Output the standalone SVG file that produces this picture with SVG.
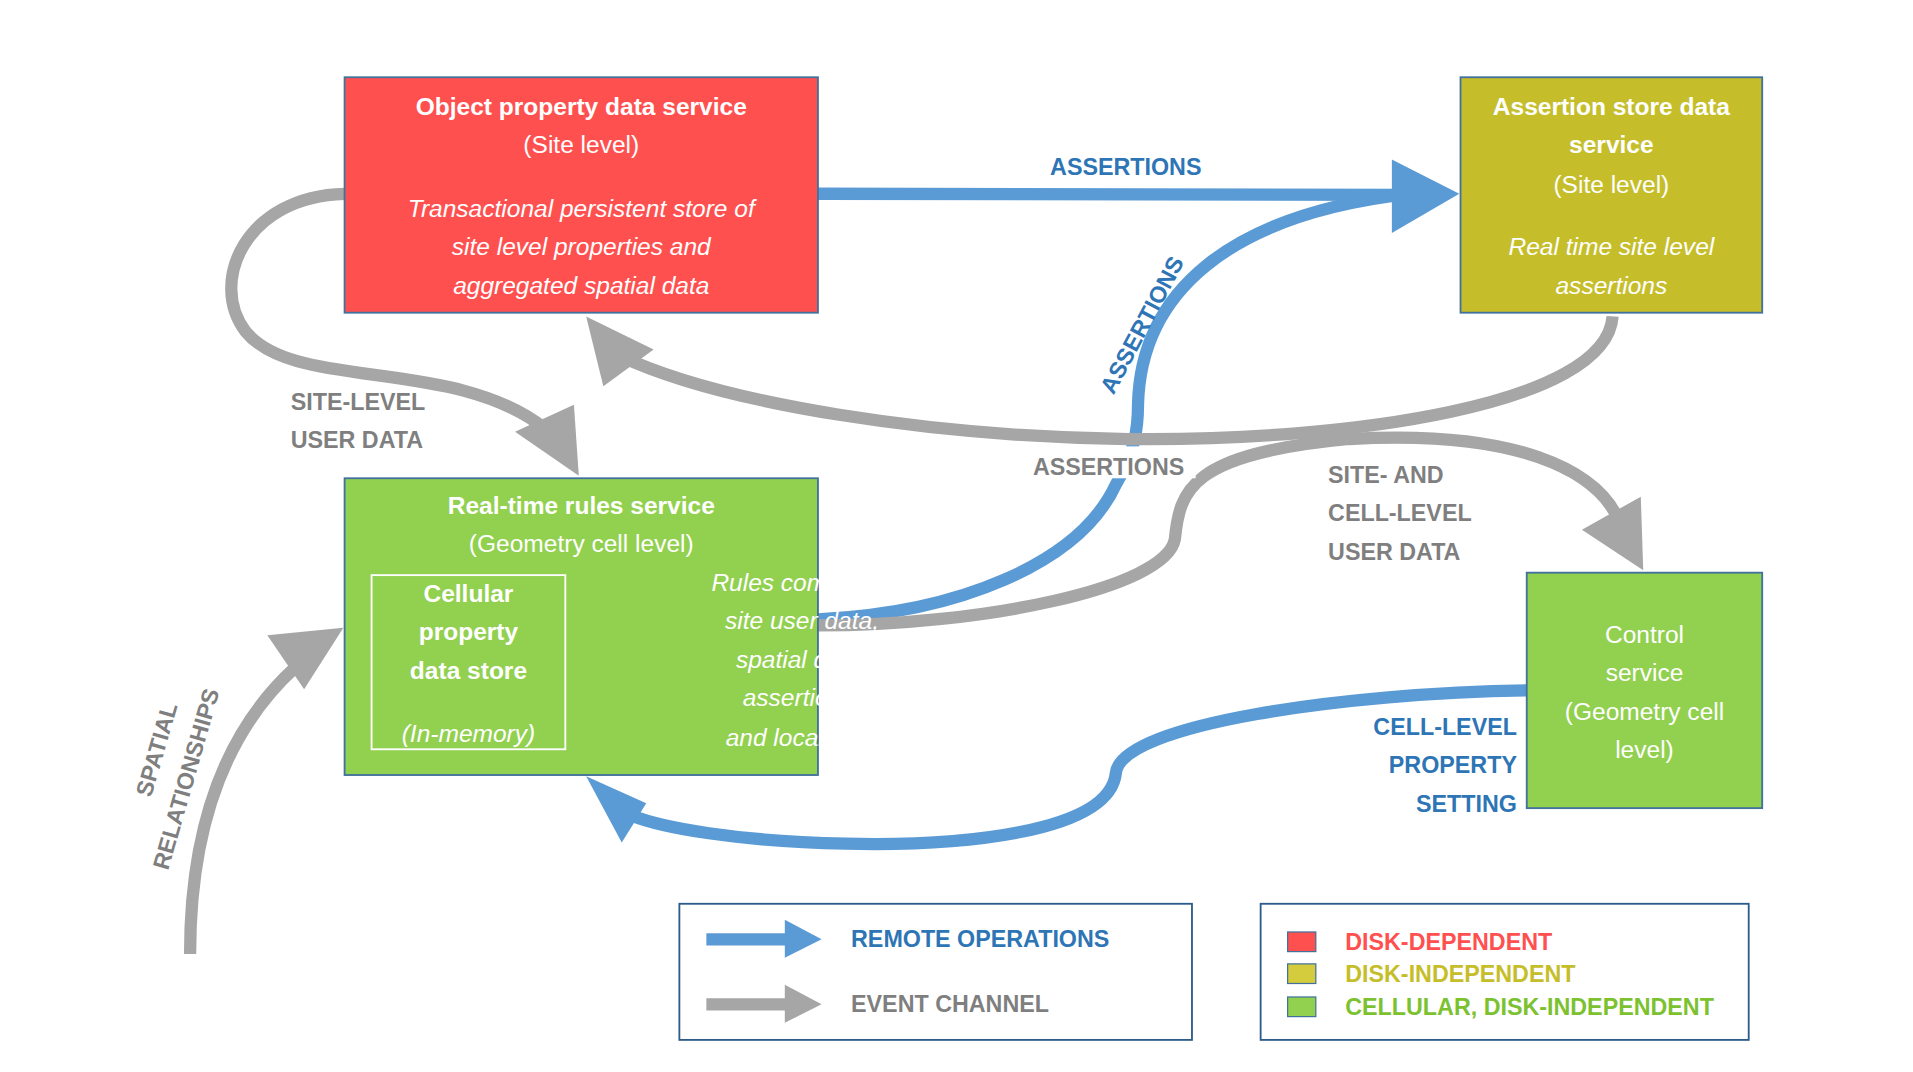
<svg xmlns="http://www.w3.org/2000/svg" width="1913" height="1072" viewBox="0 0 1913 1072">
<style>
text{font-family:"Liberation Sans",Arial,sans-serif}
.box{stroke:#41719C;stroke-width:1.5}
.t{fill:#fff;font-size:20px;text-anchor:middle}
.b{font-weight:bold}
.i{font-style:italic}
.bl{fill:none;stroke:#5B9BD5;stroke-width:10}
.gr{fill:none;stroke:#A6A6A6;stroke-width:10}
.lb{font-size:19px;font-weight:bold;fill:#2E75B6}
.lg{font-size:19px;font-weight:bold;fill:#7F7F7F}
</style>
<rect width="1913" height="1072" fill="#fff"/>
<g transform="scale(1.2263)">
<g id="connectors">
<path class="bl" d="M667,505 C780,500 880,460 910,395 C925,370 928,350 928,330 C930,240 1000,175 1150,158"/>
<path class="bl" d="M667,158 L1145,159"/>
<polygon fill="#5B9BD5" points="1135,130 1190,158 1135,190"/>
<path class="gr" d="M1315,258 C1310,330 1100,360 920,358 C760,356 590,330 505,290"/>
<polygon fill="#A6A6A6" points="478,258 533,285 492,315"/>
<path class="gr" d="M281,158 C200,160 170,230 200,270 C240,320 370,290 445,350"/>
<polygon fill="#A6A6A6" points="420,352 468,330 472,388"/>
<path class="gr" d="M667,510 C800,510 950,480 958,440 C962,400 970,370 1100,358 C1240,350 1300,385 1318,420"/>
<polygon fill="#A6A6A6" points="1290,432 1338,405 1340,465"/>
<path class="gr" d="M155,778 C155,680 180,600 240,545"/>
<polygon fill="#A6A6A6" points="218,518 280,512 248,562"/>
<path class="bl" d="M1245,563 C1100,565 915,590 910,630 C905,680 780,690 690,688 C600,686 540,675 515,665"/>
<polygon fill="#5B9BD5" points="478,633 527,655 507,687"/>
<rect x="835" y="364" width="140" height="26" fill="#fff"/>
<text class="lg" x="904" y="387" text-anchor="middle">ASSERTIONS</text>
<text class="lb" x="918" y="143" text-anchor="middle">ASSERTIONS</text>
<text class="lb" x="0" y="0" text-anchor="middle" transform="translate(937,268) rotate(-62)">ASSERTIONS</text>
<text class="lg" x="292" y="334" text-anchor="middle">SITE-LEVEL</text>
<text class="lg" x="291" y="365" text-anchor="middle">USER DATA</text>
<text class="lg" x="1083" y="394">SITE- AND</text>
<text class="lg" x="1083" y="425">CELL-LEVEL</text>
<text class="lg" x="1083" y="457">USER DATA</text>
<text class="lb" x="1237" y="599" text-anchor="end">CELL-LEVEL</text>
<text class="lb" x="1237" y="630" text-anchor="end">PROPERTY</text>
<text class="lb" x="1237" y="662" text-anchor="end">SETTING</text>
<text class="lg" x="0" y="0" text-anchor="middle" transform="translate(134,613) rotate(-74)">SPATIAL</text>
<text class="lg" x="0" y="0" text-anchor="middle" transform="translate(158,637) rotate(-74)">RELATIONSHIPS</text>
</g>
<g id="object-property">
<rect class="box" x="281" y="63" width="386" height="192" fill="#FF5050"/>
<text class="t b" x="474" y="94">Object property data service</text>
<text class="t" x="474" y="125">(Site level)</text>
<text class="t i" x="474" y="177">Transactional persistent store of</text>
<text class="t i" x="474" y="208">site level properties and</text>
<text class="t i" x="474" y="240">aggregated spatial data</text>
</g>
<g id="assertion-store">
<rect class="box" x="1191" y="63" width="246" height="192" fill="#C5BE2A"/>
<text class="t b" x="1314" y="94">Assertion store data</text>
<text class="t b" x="1314" y="125">service</text>
<text class="t" x="1314" y="157">(Site level)</text>
<text class="t i" x="1314" y="208">Real time site level</text>
<text class="t i" x="1314" y="240">assertions</text>
</g>
<g id="rules">
<rect class="box" x="281" y="390" width="386" height="242" fill="#92D050"/>
<text class="t b" x="474" y="419">Real-time rules service</text>
<text class="t" x="474" y="450">(Geometry cell level)</text>
<rect x="303" y="469" width="158" height="142" fill="none" stroke="#fff" stroke-width="1.5"/>
<text class="t b" x="382" y="491">Cellular</text>
<text class="t b" x="382" y="522">property</text>
<text class="t b" x="382" y="554">data store</text>
<text class="t i" x="382" y="605">(In-memory)</text>
<text class="t i" x="654" y="482" text-anchor="end">Rules combining</text>
<text class="t i" x="654" y="513" text-anchor="end">site user data,</text>
<text class="t i" x="654" y="545" text-anchor="end">spatial data,</text>
<text class="t i" x="654" y="576" text-anchor="end">assertions,</text>
<text class="t i" x="654" y="608" text-anchor="end">and local data</text>
</g>
<g id="control">
<rect class="box" x="1245" y="467" width="192" height="192" fill="#92D050"/>
<text class="t" x="1341" y="524">Control</text>
<text class="t" x="1341" y="555">service</text>
<text class="t" x="1341" y="587">(Geometry cell</text>
<text class="t" x="1341" y="618">level)</text>
</g>
<g id="legend-arrows">
<rect x="554" y="737" width="418" height="111" fill="#fff" stroke="#2E5C8A" stroke-width="1.5"/>
<path class="bl" d="M576,766 L645,766"/>
<polygon fill="#5B9BD5" points="640,750 670,766 640,781"/>
<path class="gr" d="M576,819 L645,819"/>
<polygon fill="#A6A6A6" points="640,803 670,819 640,834"/>
<text class="lb" x="694" y="772">REMOTE OPERATIONS</text>
<text class="lg" x="694" y="825">EVENT CHANNEL</text>
</g>
<g id="legend-colors">
<rect x="1028" y="737" width="398" height="111" fill="#fff" stroke="#2E5C8A" stroke-width="1.5"/>
<rect x="1050" y="760" width="23" height="16" fill="#FF5050" stroke="#41719C"/>
<rect x="1050" y="786" width="23" height="16" fill="#D4CC3C" stroke="#41719C"/>
<rect x="1050" y="813" width="23" height="16" fill="#92D050" stroke="#41719C"/>
<text x="1097" y="775" font-size="19" font-weight="bold" fill="#FF5050">DISK-DEPENDENT</text>
<text x="1097" y="801" font-size="19" font-weight="bold" fill="#C5BE2A">DISK-INDEPENDENT</text>
<text x="1097" y="828" font-size="19" font-weight="bold" fill="#7CC230">CELLULAR, DISK-INDEPENDENT</text>
</g>
</g>
</svg>
